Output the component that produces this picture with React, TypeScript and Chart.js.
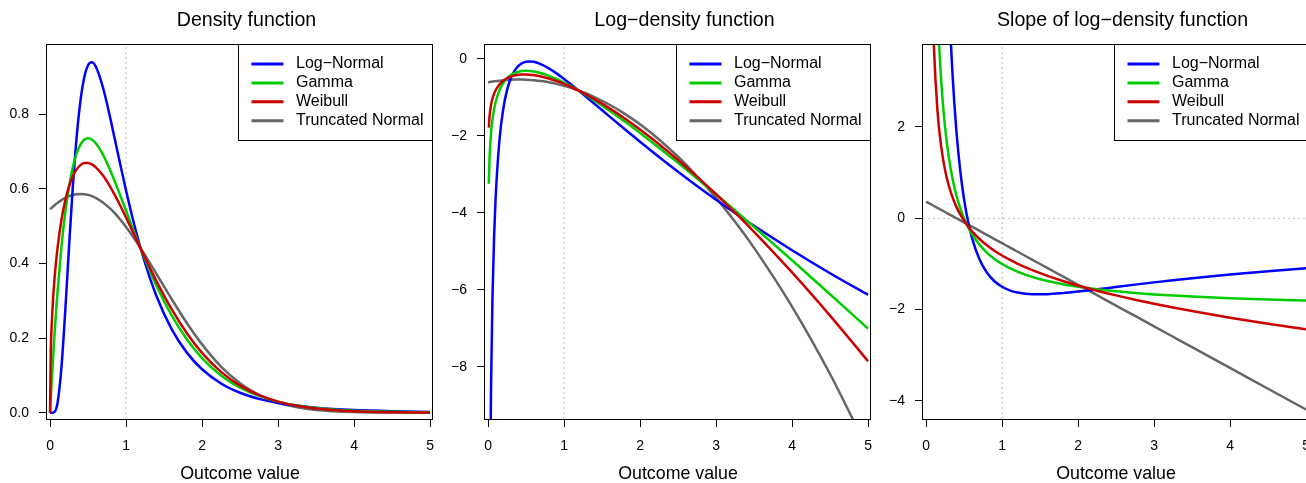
import React, { useEffect, useRef } from 'react';
import { Chart, registerables } from 'chart.js';

Chart.register(...registerables);
Chart.defaults.font.family = '"Liberation Sans", Arial, Helvetica, sans-serif';
Chart.defaults.color = '#000';

// ---------- data ----------
const xValues = [0, 0.01, 0.02, 0.04, 0.06, 0.08, 0.1, 0.15, 0.2, 0.25, 0.3, 0.35, 0.4, 0.45, 0.5, 0.55, 0.6, 0.7, 0.8, 0.9, 1.0, 1.1, 1.2, 1.4, 1.6, 1.8, 2.0, 2.25, 2.5, 2.75, 3.0, 3.25, 3.5, 4.0, 4.5, 5.0];

const seriesNames = ['Log\u2212Normal', 'Gamma', 'Weibull', 'Truncated Normal'];
const seriesColors = ['#0000ff', '#00cd00', '#cd0000', '#666666'];
const seriesDrawOrder = [3, 2, 1, 4];

const densityLogNormal = [0, 0, 0.000001, 0.00021, 0.00234, 0.01009, 0.02726, 0.12114, 0.27299, 0.44543, 0.60664, 0.73888, 0.83596, 0.89873, 0.93145, 0.93966, 0.92886, 0.86924, 0.78271, 0.68804, 0.59556, 0.51047, 0.43486, 0.31268, 0.2241, 0.16106, 0.11643, 0.07843, 0.0535, 0.03697, 0.02587, 0.01833, 0.01313, 0.00696, 0.00383, 0.00218];
const densityGamma = [0, 0.03921, 0.07686, 0.1477, 0.21286, 0.27269, 0.32749, 0.44449, 0.53626, 0.60653, 0.65857, 0.69522, 0.71893, 0.73183, 0.73576, 0.73232, 0.72287, 0.69047, 0.64607, 0.59508, 0.54134, 0.48753, 0.43545, 0.34054, 0.26088, 0.19673, 0.14653, 0.09998, 0.06738, 0.04495, 0.02975, 0.01954, 0.01277, 0.00537, 0.00222, 0.00091];
const densityWeibull = [0, 0.16801, 0.22676, 0.30501, 0.36146, 0.4065, 0.44408, 0.51665, 0.56873, 0.60668, 0.63385, 0.65237, 0.66383, 0.66933, 0.66978, 0.666, 0.65858, 0.63501, 0.60278, 0.56479, 0.52327, 0.48008, 0.43661, 0.35284, 0.27755, 0.21323, 0.16041, 0.10943, 0.07266, 0.04707, 0.0298, 0.01847, 0.01122, 0.00392, 0.00128, 0.00039];
const densityTruncNormal = [0.54512, 0.54711, 0.54904, 0.55276, 0.55631, 0.55967, 0.56285, 0.56996, 0.57586, 0.58049, 0.58383, 0.58585, 0.58655, 0.5859, 0.58394, 0.58065, 0.57607, 0.56315, 0.54554, 0.52369, 0.49815, 0.46957, 0.43862, 0.37238, 0.30484, 0.24062, 0.18314, 0.1237, 0.07893, 0.04757, 0.02709, 0.01457, 0.00741, 0.00161, 0.00028, 0.00004];

const logLogNormal = [null, -19.7627, -13.5223, -8.4668, -6.0589, -4.5963, -3.6024, -2.1108, -1.2983, -0.8087, -0.4998, -0.3026, -0.1792, -0.1068, -0.071, -0.0622, -0.0738, -0.1401, -0.245, -0.3739, -0.5183, -0.6724, -0.8327, -1.1626, -1.4957, -1.826, -2.1505, -2.5456, -2.928, -3.2976, -3.6545, -3.9994, -4.3327, -4.9676, -5.5641, -6.1266];
const logGamma = [null, -3.2389, -2.5657, -1.9126, -1.5471, -1.2994, -1.1163, -0.8108, -0.6231, -0.5, -0.4177, -0.3635, -0.33, -0.3122, -0.3069, -0.3115, -0.3245, -0.3704, -0.4369, -0.5191, -0.6137, -0.7184, -0.8314, -1.0772, -1.3437, -1.6259, -1.9206, -2.3028, -2.6974, -3.1021, -3.5151, -3.9351, -4.3609, -5.2274, -6.1096, -7.0043];
const logWeibull = [null, -1.7838, -1.4839, -1.1874, -1.0176, -0.9002, -0.8118, -0.6604, -0.5643, -0.4998, -0.4559, -0.4271, -0.4097, -0.4015, -0.4008, -0.4065, -0.4177, -0.4541, -0.5062, -0.5713, -0.6477, -0.7338, -0.8287, -1.0417, -1.2818, -1.5454, -1.83, -2.2125, -2.622, -3.0561, -3.5133, -3.9916, -4.4898, -5.5428, -6.6646, -7.8496];
const logTruncNormal = [-0.6067, -0.6031, -0.5996, -0.5928, -0.5864, -0.5804, -0.5747, -0.5622, -0.5519, -0.5439, -0.5381, -0.5347, -0.5335, -0.5346, -0.538, -0.5436, -0.5515, -0.5742, -0.606, -0.6469, -0.6968, -0.7559, -0.8241, -0.9878, -1.188, -1.4245, -1.6975, -2.0899, -2.5392, -3.0455, -3.6086, -4.2287, -4.9056, -6.4303, -8.1825, -10.1624];

const slopeLogNormal = [null, 985.77, 407.41, 160.97, 90.645, 59.115, 41.789, 21.193, 12.347, 7.676, 4.898, 3.112, 1.9, 1.043, 0.419, -0.0465, -0.4002, -0.8862, -1.1871, -1.3779, -1.5, -1.5773, -1.6247, -1.6642, -1.662, -1.6387, -1.6048, -1.5556, -1.5039, -1.4527, -1.4032, -1.356, -1.3113, -1.2298, -1.1577, -1.0939];
const slopeGamma = [null, 98, 48, 23, 14.6667, 10.5, 8, 4.6667, 3, 2, 1.3333, 0.8571, 0.5, 0.2222, 0, -0.1818, -0.3333, -0.5714, -0.75, -0.8889, -1, -1.0909, -1.1667, -1.2857, -1.375, -1.4444, -1.5, -1.5556, -1.6, -1.6364, -1.6667, -1.6923, -1.7143, -1.75, -1.7778, -1.8];
const slopeWeibull = [null, 43.382, 21.548, 10.58, 6.8913, 5.0277, 3.8965, 2.3563, 1.5574, 1.0587, 0.7118, 0.4531, 0.2502, 0.0851, -0.0531, -0.1715, -0.2747, -0.4478, -0.5897, -0.7099, -0.8143, -0.9069, -0.9902, -1.136, -1.2615, -1.3724, -1.4724, -1.5856, -1.6885, -1.7833, -1.8715, -1.9542, -2.0322, -2.1769, -2.3093, -2.432];
const slopeTruncNormal = [0.3651, 0.356, 0.3469, 0.3287, 0.3105, 0.2923, 0.2741, 0.2285, 0.183, 0.1375, 0.092, 0.0464, 0.0009, -0.0446, -0.0901, -0.1357, -0.1812, -0.2722, -0.3633, -0.4543, -0.5454, -0.6364, -0.7275, -0.9096, -1.0917, -1.2738, -1.4559, -1.6835, -1.9111, -2.1388, -2.3664, -2.594, -2.8216, -3.2769, -3.7321, -4.1874];

const xTicks = [0, 1, 2, 3, 4, 5];
const xTickLabels = ['0', '1', '2', '3', '4', '5'];
const densityTicks = [0, 0.2, 0.4, 0.6, 0.8];
const densityTickLabels = ['0.0', '0.2', '0.4', '0.6', '0.8'];
const logTicks = [-8, -6, -4, -2, 0];
const logTickLabels = ['\u22128', '\u22126', '\u22124', '\u22122', '0'];
const slopeTicks = [-4, -2, 0, 2];
const slopeTickLabels = ['\u22124', '\u22122', '0', '2'];

const refX = 1;
const refY = 0;
const xTitle = 'Outcome value';
const panelTitles = ['Density function', 'Log\u2212density function', 'Slope of log\u2212density function'];

// axis ranges
const xRange = [-0.04, 5.039];
const densityRange = [-0.0169, 0.9885];
const logRange = [-9.351, 0.3896];
const slopeRange = [-4.395, 3.8165];

// ---------- panels ----------
type PanelCfg = {
  title: string;
  series: (number | null)[][];
  yRange: number[];
  yTicks: number[];
  yTickLabels: string[];
  hRef: boolean;
  left: number;
};

const panels: PanelCfg[] = [
  { title: panelTitles[0], series: [densityLogNormal, densityGamma, densityWeibull, densityTruncNormal], yRange: densityRange, yTicks: densityTicks, yTickLabels: densityTickLabels, hRef: false, left: 0 },
  { title: panelTitles[1], series: [logLogNormal, logGamma, logWeibull, logTruncNormal], yRange: logRange, yTicks: logTicks, yTickLabels: logTickLabels, hRef: false, left: 438 },
  { title: panelTitles[2], series: [slopeLogNormal, slopeGamma, slopeWeibull, slopeTruncNormal], yRange: slopeRange, yTicks: slopeTicks, yTickLabels: slopeTickLabels, hRef: true, left: 876 },
];

const CANVAS_W = 493;
const CANVAS_H = 483;

const frameAndLegend = {
  id: 'frameAndLegend',
  afterDraw(chart: any) {
    const { ctx, chartArea: a } = chart;
    const L = Math.round(a.left);
    const R = Math.round(a.right);
    const T = Math.round(a.top);
    const B = Math.round(a.bottom);
    ctx.save();
    ctx.strokeStyle = '#000';
    ctx.lineWidth = 1;
    ctx.strokeRect(L - 0.5, T + 0.5, R - L, B - T);

    // legend box
    const boxRight = R - 0.5;
    const boxTop = T + 0.5;
    const boxW = 194;
    const boxH = 96;
    const boxLeft = boxRight - boxW;
    ctx.fillStyle = '#fff';
    ctx.fillRect(boxLeft, boxTop, boxW, boxH);
    ctx.strokeRect(boxLeft, boxTop, boxW, boxH);
    ctx.font = '16px "Liberation Sans", Arial, Helvetica, sans-serif';
    ctx.textBaseline = 'middle';
    ctx.textAlign = 'left';
    seriesNames.forEach((name, i) => {
      const y = T + 20 + 18.9 * i;
      ctx.strokeStyle = seriesColors[i];
      ctx.lineWidth = 3;
      ctx.lineCap = 'butt';
      ctx.beginPath();
      ctx.moveTo(boxLeft + 13, y);
      ctx.lineTo(boxLeft + 45, y);
      ctx.stroke();
      ctx.fillStyle = '#000';
      ctx.fillText(name, boxLeft + 57.5, y);
    });
    ctx.restore();
  },
};

function Panel({ cfg }: { cfg: PanelCfg }) {
  const ref = useRef<HTMLCanvasElement>(null);
  useEffect(() => {
    const [yMin, yMax] = cfg.yRange;
    const [xMin, xMax] = xRange;
    const datasets: any[] = [
      {
        label: 'refV',
        data: [{ x: refX, y: yMin }, { x: refX, y: yMax }],
        borderColor: '#bdbdbd',
        borderWidth: 1,
        borderDash: [2, 3],
        pointRadius: 0,
        clip: 0,
        order: 10,
      },
    ];
    if (cfg.hRef) {
      datasets.push({
        label: 'refH',
        data: [{ x: xMin, y: refY }, { x: xMax, y: refY }],
        borderColor: '#bdbdbd',
        borderWidth: 1,
        borderDash: [2, 3],
        pointRadius: 0,
        clip: 0,
        order: 10,
      });
    }
    cfg.series.forEach((ys, si) => {
      datasets.push({
        label: seriesNames[si],
        data: xValues.map((x, i) => ({ x, y: ys[i] })),
        borderColor: seriesColors[si],
        borderWidth: 2.5,
        pointRadius: 0,
        fill: false,
        cubicInterpolationMode: 'monotone',
        clip: 0,
        order: seriesDrawOrder[si],
      });
    });

    const chart = new Chart(ref.current as HTMLCanvasElement, {
      type: 'line',
      data: { datasets },
      plugins: [frameAndLegend],
      options: {
        responsive: false,
        animation: false,
        events: [],
        layout: { padding: 0 },
        plugins: {
          legend: { display: false },
          tooltip: { enabled: false },
          title: {
            display: true,
            text: cfg.title,
            color: '#000',
            font: { size: 19.6, weight: 'normal', lineHeight: '23px' },
            padding: { top: 9, bottom: 12 },
          },
        },
        scales: {
          x: {
            type: 'linear',
            position: 'bottom',
            min: xMin,
            max: xMax,
            afterBuildTicks: (s: any) => {
              s.ticks = xTicks.map((v) => ({ value: v }));
            },
            afterFit: (s: any) => {
              s.height = 64;
            },
            ticks: {
              autoSkip: false,
              maxRotation: 0,
              padding: 11,
              color: '#000',
              font: { size: 14 },
              callback: (_v: any, i: number) => xTickLabels[i],
            },
            grid: { drawOnChartArea: false, drawTicks: true, tickLength: 8, tickColor: '#000', tickWidth: 1 },
            border: { display: false },
            title: { display: true, text: xTitle, color: '#000', font: { size: 17.8, lineHeight: 1 }, padding: 0 },
          },
          y: {
            type: 'linear',
            position: 'left',
            min: yMin,
            max: yMax,
            afterBuildTicks: (s: any) => {
              s.ticks = cfg.yTicks.map((v) => ({ value: v }));
            },
            afterFit: (s: any) => {
              s.width = 47;
            },
            ticks: {
              autoSkip: false,
              padding: 10,
              color: '#000',
              font: { size: 14 },
              callback: (_v: any, i: number) => cfg.yTickLabels[i],
            },
            grid: { drawOnChartArea: false, drawTicks: true, tickLength: 8, tickColor: '#000', tickWidth: 1 },
            border: { display: false },
          },
          yR: {
            type: 'linear',
            position: 'right',
            afterFit: (s: any) => {
              s.width = 60;
            },
            ticks: { display: false },
            grid: { display: false },
            border: { display: false },
          },
        },
      } as any,
    });
    return () => chart.destroy();
  }, [cfg]);
  return (
    <canvas
      ref={ref}
      width={CANVAS_W}
      height={CANVAS_H}
      style={{ position: 'absolute', left: cfg.left, top: 0, width: CANVAS_W, height: CANVAS_H }}
    />
  );
}

export default function App() {
  return (
    <div
      style={{
        position: 'fixed',
        left: 0,
        top: 0,
        width: 1306,
        height: 483,
        overflow: 'hidden',
        background: '#fff',
      }}
    >
      {panels.map((p, i) => (
        <Panel key={i} cfg={p} />
      ))}
    </div>
  );
}
